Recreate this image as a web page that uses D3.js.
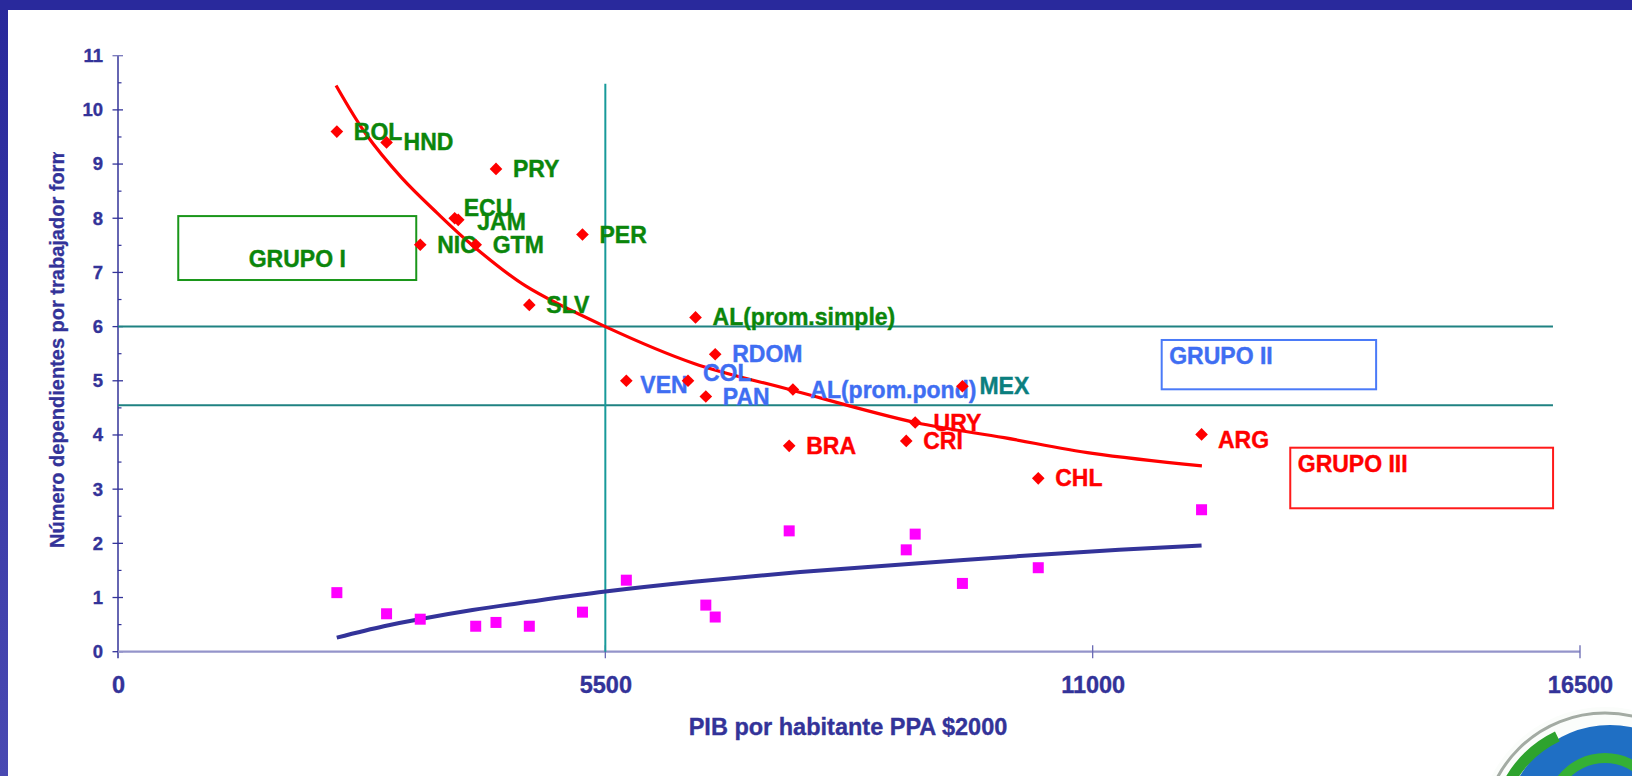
<!DOCTYPE html>
<html>
<head>
<meta charset="utf-8">
<script src="https://cdn.jsdelivr.net/npm/d3@7"></script>
<style>
  body { margin: 0; background: #fff; }
  #svg-container { width: 1632px; height: 776px; }
  svg { display: block; font-family: "Liberation Sans", Arial, sans-serif; font-weight: bold; }
</style>
</head>
<body>
<div id="svg-container"></div>
<script>
////////////////////////////////////////////////////////////////////
////////////////////////////  Data  ////////////////////////////////
const countries = ["BOL", "HND", "PRY", "ECU", "JAM", "NIC", "GTM", "SLV", "PER",
  "VEN", "COL", "PAN", "RDOM", "BRA", "CRI", "URY", "MEX", "CHL", "ARG"];
const gdp = [2470, 3031, 4266, 3800, 3840, 3411, 4037, 4642, 5242,
  5737, 6433, 6634, 6740, 7575, 8896, 8997, 9530, 10386, 12229];
const dependents = [9.6, 9.4, 8.91, 8.0, 7.97, 7.51, 7.51, 6.4, 7.7,
  5.0, 5.0, 4.71, 5.49, 3.8, 3.89, 4.23, 4.9, 3.2, 4.01];
// second series (squares), missing where no square is drawn
const formalRatio = [1.09, 0.7, 0.54, null, null, 0.6, 0.47, 0.47, 0.73,
  1.32, null, 0.86, 0.64, 2.23, 1.88, 2.17, 1.26, 1.55, 2.62];
const groups = ["I", "I", "I", "I", "I", "I", "I", "I", "I",
  "II", "II", "II", "II", "III", "III", "III", "MEX", "III", "III"];

const averageNames = ["AL(prom.simple)", "AL(prom.pond)"];
const averageGdp = [6518, 7617];
const averageDependents = [6.17, 4.84];
const averageGroups = ["I", "II"];

// trend lines
const trendDepGdp = [2461, 2800, 3200, 3600, 4000, 4600, 5500, 6500, 7600, 9000, 10000, 11000, 12233];
const trendDepValue = [10.45, 9.55, 8.75, 8.1, 7.5, 6.75, 6.0, 5.32, 4.83, 4.23, 3.95, 3.66, 3.43];
const trendRatioGdp = [2469, 3000, 3400, 4000, 4634, 5500, 6500, 7700, 9000, 10400, 11300, 12229];
const trendRatioValue = [0.26, 0.47, 0.6, 0.77, 0.92, 1.11, 1.29, 1.47, 1.63, 1.79, 1.88, 1.96];

const xTicks = [0, 5500, 11000, 16500];
const yTicks = [0, 1, 2, 3, 4, 5, 6, 7, 8, 9, 10, 11];

// quadrant lines
const splitGdp = 5500;
const splitTop = 10.48;
const splitLevels = [6.0, 4.55];
const splitEnd = 16195;

// group boxes
const boxNames = ["GRUPO I", "GRUPO II", "GRUPO III"];
const boxGdp = [[680, 3366], [11779, 14199], [13230, 16196]];
const boxLevel = [[8.04, 6.86], [5.753, 4.843], [3.765, 2.647]];
const boxGroups = ["I", "II", "III"];

////////////////////////////////////////////////////////////////////
////////////////////////////  Init  ////////////////////////////////
const width = 1632;
const height = 776;

const svg = d3.select("#svg-container").append("svg")
  .attr("width", width).attr("height", height);

const navy = "#333399";
const colorScale = d3.scaleOrdinal()
  .domain(["I", "II", "III", "MEX"])
  .range(["#0b860b", "#3f6ef2", "#ff0000", "#0b7f7f"]);
const boxStroke = d3.scaleOrdinal()
  .domain(["I", "II", "III"])
  .range(["#1a961a", "#4a7af8", "#ff1a1a"]);

// label nudges (px) relative to the diamond, default [17, 8]
const nudge = {
  ECU: [9, -2.3], JAM: [19, 10], VEN: [14, 12.3], COL: [15, 0.7],
  ARG: [16.4, 14], URY: [18.4, 8.4], "AL(prom.pond)": [17.4, 9]
};

const x = d3.scaleLinear().domain([0, 16500]).range([118, 1580]);
const y = d3.scaleLinear().domain([0, 11]).range([651.7, 55.7]);

// frame
const defs = svg.append("defs");
const grad = defs.append("linearGradient").attr("id", "leftbar")
  .attr("x1", 0).attr("y1", 0).attr("x2", 0).attr("y2", 1);
grad.append("stop").attr("offset", "0%").attr("stop-color", "#28289b");
grad.append("stop").attr("offset", "100%").attr("stop-color", "#4949b2");
defs.append("clipPath").attr("id", "ytitle-clip")
  .append("rect").attr("x", 0).attr("y", 152).attr("width", 120).attr("height", 500);

svg.append("rect").attr("width", width).attr("height", height).attr("fill", "#fff");
svg.append("rect").attr("x", 0).attr("y", 0).attr("width", 8).attr("height", height)
  .attr("fill", "url(#leftbar)");
svg.append("rect").attr("x", 0).attr("y", 0).attr("width", width).attr("height", 10)
  .attr("fill", "#29299c");

////////////////////////////////////////////////////////////////////
////////////////////////////  Axes  ////////////////////////////////
const yAxis = svg.append("g")
  .attr("transform", `translate(${x(0)},0)`)
  .call(d3.axisLeft(y).tickValues(yTicks).tickSize(0).tickPadding(15).tickFormat(d3.format("d")))
  .attr("color", navy)
  .attr("font-size", 18.5)
  .attr("font-family", null)
  .attr("font-weight", "bold");
yAxis.select(".domain").remove();
yAxis.selectAll("text").attr("stroke", navy).attr("stroke-width", 0.35);

svg.append("line")
  .attr("x1", x(0)).attr("x2", x(0))
  .attr("y1", y(11)).attr("y2", y(0) + 6.6)
  .attr("stroke", navy).attr("stroke-width", 1.5);

svg.selectAll(".ytick-major")
  .data(yTicks)
  .join("line")
  .attr("class", "ytick-major")
  .attr("x1", x(0) - 5.5).attr("x2", x(0) + 5)
  .attr("y1", (d) => y(d)).attr("y2", (d) => y(d))
  .attr("stroke", (d) => (d === 11 ? "#7777bb" : navy)).attr("stroke-width", 1.3);

svg.selectAll(".ytick-minor")
  .data(yTicks.slice(0, -1).map((d) => d + 0.5))
  .join("line")
  .attr("class", "ytick-minor")
  .attr("x1", x(0)).attr("x2", x(0) + 3.5)
  .attr("y1", (d) => y(d)).attr("y2", (d) => y(d))
  .attr("stroke", navy).attr("stroke-width", 1.2);

const xAxis = svg.append("g")
  .attr("transform", `translate(0,${y(0)})`)
  .call(d3.axisBottom(x).tickValues(xTicks).tickSize(0).tickPadding(24.5).tickFormat(d3.format("d")))
  .attr("color", navy)
  .attr("font-size", 23.5)
  .attr("font-family", null)
  .attr("font-weight", "bold");
xAxis.select(".domain").remove();
xAxis.selectAll("text").attr("stroke", navy).attr("stroke-width", 0.35);

svg.append("line")
  .attr("x1", x(0)).attr("x2", x(16500))
  .attr("y1", y(0)).attr("y2", y(0))
  .attr("stroke", "#9494ca").attr("stroke-width", 2.2);

svg.selectAll(".xtick")
  .data(xTicks.slice(1))
  .join("line")
  .attr("class", "xtick")
  .attr("x1", (d) => x(d)).attr("x2", (d) => x(d))
  .attr("y1", y(0) - 6.5).attr("y2", y(0) + 6.6)
  .attr("stroke", "#6a6ab4").attr("stroke-width", 1.3);

// axis titles
svg.append("text")
  .attr("x", 848).attr("y", 735)
  .attr("text-anchor", "middle")
  .attr("fill", navy).attr("font-size", 23.5)
  .attr("stroke", navy).attr("stroke-width", 0.35)
  .text("PIB por habitante PPA $2000");

svg.append("g").attr("clip-path", "url(#ytitle-clip)")
  .append("text")
  .attr("transform", "translate(63.5,548) rotate(-90)")
  .attr("fill", navy).attr("font-size", 20)
  .attr("stroke", navy).attr("stroke-width", 0.3)
  .text("Número dependientes por trabajador formal");

////////////////////////////////////////////////////////////////////
////////////////////////////  Quadrants  ///////////////////////////
svg.selectAll(".split-h")
  .data(splitLevels)
  .join("line")
  .attr("class", "split-h")
  .attr("x1", x(0)).attr("x2", x(splitEnd))
  .attr("y1", (d) => y(d)).attr("y2", (d) => y(d))
  .attr("stroke", "#1f8282").attr("stroke-width", 2);

svg.append("line")
  .attr("x1", x(splitGdp)).attr("x2", x(splitGdp))
  .attr("y1", y(splitTop)).attr("y2", y(0))
  .attr("stroke", "#179a9a").attr("stroke-width", 2);

// group boxes
const boxes = svg.selectAll(".box")
  .data(boxNames.map((name, i) => ({ name, gx: boxGdp[i], gy: boxLevel[i], group: boxGroups[i] })))
  .join("g")
  .attr("class", "box");

boxes.append("rect")
  .attr("x", (d) => x(d.gx[0]))
  .attr("y", (d) => y(d.gy[0]))
  .attr("width", (d) => x(d.gx[1]) - x(d.gx[0]))
  .attr("height", (d) => y(d.gy[1]) - y(d.gy[0]))
  .attr("fill", "none")
  .attr("stroke", (d) => boxStroke(d.group))
  .attr("stroke-width", 2);

boxes.append("text")
  .attr("x", (d) => (d.group === "I" ? (x(d.gx[0]) + x(d.gx[1])) / 2 : x(d.gx[0]) + 7.5))
  .attr("y", (d) => (d.group === "I" ? y(d.gy[1]) - 12.7 : y(d.gy[0]) + 24))
  .attr("text-anchor", (d) => (d.group === "I" ? "middle" : "start"))
  .attr("fill", (d) => colorScale(d.group))
  .attr("stroke", (d) => colorScale(d.group))
  .attr("stroke-width", 0.4)
  .attr("font-size", 23)
  .text((d) => d.name);

////////////////////////////////////////////////////////////////////
////////////////////////////  Trends  //////////////////////////////
const line = d3.line()
  .x((d) => x(d[0]))
  .y((d) => y(d[1]))
  .curve(d3.curveCatmullRom);

svg.append("path")
  .datum(trendDepGdp.map((g, i) => [g, trendDepValue[i]]))
  .attr("d", line)
  .attr("fill", "none")
  .attr("stroke", "#ff0000")
  .attr("stroke-width", 3.2);

svg.append("path")
  .datum(trendRatioGdp.map((g, i) => [g, trendRatioValue[i]]))
  .attr("d", line)
  .attr("fill", "none")
  .attr("stroke", "#333399")
  .attr("stroke-width", 4);

////////////////////////////////////////////////////////////////////
////////////////////////////  Points  //////////////////////////////
const points = countries.map((name, i) => ({
  name, gdp: gdp[i], dep: dependents[i], ratio: formalRatio[i], group: groups[i]
})).concat(averageNames.map((name, i) => ({
  name, gdp: averageGdp[i], dep: averageDependents[i], ratio: null, group: averageGroups[i]
})));

svg.selectAll(".square")
  .data(points.filter((d) => d.ratio !== null))
  .join("rect")
  .attr("class", "square")
  .attr("x", (d) => x(d.gdp) - 5.5)
  .attr("y", (d) => y(d.ratio) - 5.5)
  .attr("width", 11)
  .attr("height", 11)
  .attr("fill", "#ff00ff");

// labels under diamonds so the markers stay on top
svg.selectAll(".label")
  .data(points)
  .join("text")
  .attr("class", "label")
  .attr("x", (d) => x(d.gdp) + (nudge[d.name] || [17, 8])[0])
  .attr("y", (d) => y(d.dep) + (nudge[d.name] || [17, 8])[1])
  .attr("fill", (d) => colorScale(d.group))
  .attr("stroke", (d) => colorScale(d.group))
  .attr("stroke-width", 0.4)
  .attr("font-size", 23)
  .text((d) => d.name);

const diamond = d3.symbol(d3.symbolSquare, 80);
svg.selectAll(".diamond")
  .data(points)
  .join("path")
  .attr("class", "diamond")
  .attr("d", diamond)
  .attr("transform", (d) => `translate(${x(d.gdp)},${y(d.dep)}) rotate(45)`)
  .attr("fill", "#ff0000");

////////////////////////////////////////////////////////////////////
////////////////////////////  Logo  ////////////////////////////////
const logo = svg.append("g").attr("transform", "translate(1605,835)");
logo.append("circle").attr("r", 128).attr("fill", "#fbfdfb");
logo.append("circle").attr("r", 122).attr("fill", "none")
  .attr("stroke", "#a3aba3").attr("stroke-width", 3);
logo.append("circle").attr("cx", 5).attr("cy", -5).attr("r", 105).attr("fill", "#1f6fc4");
logo.append("path")
  .attr("d", d3.arc()({ innerRadius: 104, outerRadius: 115, startAngle: -1.1, endAngle: -0.45 }))
  .attr("fill", "#2ea32e");
logo.append("path")
  .attr("d", d3.arc()({ innerRadius: 50, outerRadius: 60, startAngle: -0.9, endAngle: 0.9 }))
  .attr("transform", "translate(0,-22)")
  .attr("fill", "#35b035");
</script>
</body>
</html>
